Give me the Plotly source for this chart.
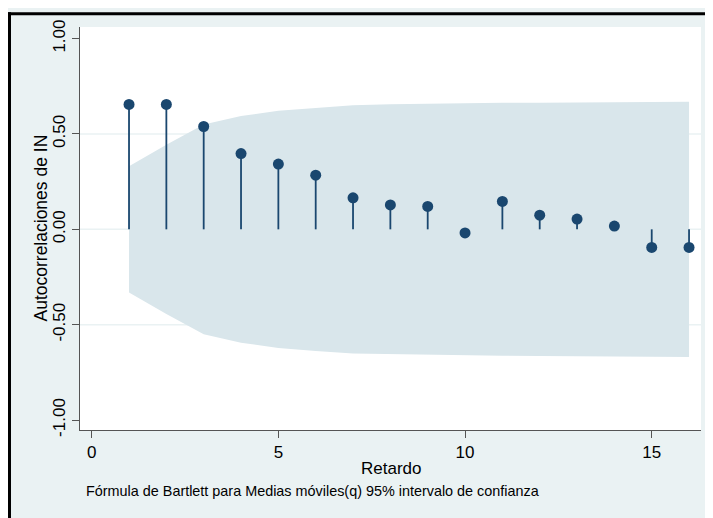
import plotly.graph_objects as go

# ---- data ----
lags = list(range(1, 17))
acf = [0.655, 0.655, 0.539, 0.397, 0.342, 0.284, 0.165, 0.128,
       0.120, -0.019, 0.146, 0.074, 0.054, 0.017, -0.095, -0.095]
ci_upper = [0.331, 0.444, 0.550, 0.594, 0.622, 0.638, 0.651, 0.656,
            0.659, 0.660, 0.663, 0.664, 0.665, 0.666, 0.667, 0.669]
ci_lower = [-v for v in ci_upper]
y_ticks = [-1.0, -0.5, 0.0, 0.5, 1.0]
y_ticklabels = ["-1.00", "-0.50", "0.00", "0.50", "1.00"]
x_ticks = [0, 5, 10, 15]
grid_vals = [-0.5, 0.0, 0.5]

NAVY = "#1A476F"
BG = "#EAF2F3"
BAND = "#D9E6EB"
AXIS = "#555555"
FONT = "Liberation Sans, Arial, sans-serif"

# page body has an 8px margin; figure sized to fit the window
OFF = 8
W, H = 713 - OFF, 518 - OFF
L, T = 80 - OFF, 23 - OFF
PW, PH = 621, 407
R, B = W - L - PW, H - T - PH
XR = [-0.313, 16.32]
YR = [-1.052, 1.0607]


def px(xw):  # window pixel -> paper x
    return (xw - OFF - L) / PW


def py(yw):  # window pixel -> paper y
    return (T + PH - (yw - OFF)) / PH


fig = go.Figure()

# confidence band
fig.add_trace(go.Scatter(
    x=lags + lags[::-1], y=ci_upper + ci_lower[::-1],
    fill="toself", fillcolor=BAND, mode="lines", line=dict(width=0),
    hoverinfo="skip", showlegend=False))

# stems
sx, sy = [], []
for k, r in zip(lags, acf):
    sx += [k, k, None]
    sy += [0, r, None]
fig.add_trace(go.Scatter(x=sx, y=sy, mode="lines",
                         line=dict(color=NAVY, width=1.8),
                         hoverinfo="skip", showlegend=False))

# markers
fig.add_trace(go.Scatter(x=lags, y=acf, mode="markers",
                         marker=dict(color=NAVY, size=11),
                         showlegend=False))

shapes = []
for g in grid_vals:
    shapes.append(dict(type="line", xref="x", yref="y", x0=XR[0], x1=XR[1],
                       y0=g, y1=g, line=dict(color=BG, width=1.5), layer="below"))

# black frame (top and left)
shapes.append(dict(type="line", xref="paper", yref="paper",
                   x0=px(OFF + 1.5), x1=px(OFF + 1.5), y0=py(560), y1=py(OFF),
                   line=dict(color="black", width=3), layer="above"))
shapes.append(dict(type="line", xref="paper", yref="paper",
                   x0=px(OFF), x1=px(760), y0=py(OFF + 1.5), y1=py(OFF + 1.5),
                   line=dict(color="black", width=3), layer="above"))

annotations = [
    dict(text="Autocorrelaciones de IN", xref="paper", yref="paper",
         x=px(40), y=py(226.5), xanchor="center", yanchor="middle", textangle=-90,
         showarrow=False, font=dict(family=FONT, size=17.5, color="black")),
    dict(text="Retardo", xref="paper", yref="paper",
         x=px(390.5), y=py(469), xanchor="center", yanchor="middle",
         showarrow=False, font=dict(family=FONT, size=17, color="black")),
    dict(text="Fórmula de Bartlett para Medias móviles(q) 95% intervalo de confianza",
         xref="paper", yref="paper", x=px(84), y=py(492), xanchor="left",
         yanchor="middle", showarrow=False,
         font=dict(family=FONT, size=14.4, color="black")),
]

fig.update_layout(
    width=W, height=H,
    margin=dict(l=L, r=R, t=T, b=B, pad=0),
    paper_bgcolor=BG, plot_bgcolor="white",
    font=dict(family=FONT, color="black"),
    shapes=shapes, annotations=annotations,
    showlegend=False,
    xaxis=dict(range=XR, tickvals=x_ticks, ticks="outside", ticklen=7,
               tickcolor=AXIS, tickwidth=1, showline=True, linecolor=AXIS,
               linewidth=1, showgrid=False, zeroline=False,
               tickfont=dict(size=17, family=FONT, color="black")),
    yaxis=dict(range=YR, tickvals=y_ticks, ticktext=y_ticklabels,
               ticks="outside", ticklen=7, tickcolor=AXIS, tickwidth=1,
               showline=True, linecolor=AXIS, linewidth=1, showgrid=False,
               zeroline=False, tickangle=-90,
               tickfont=dict(size=17, family=FONT, color="black")),
)

fig.write_html("out.html")
